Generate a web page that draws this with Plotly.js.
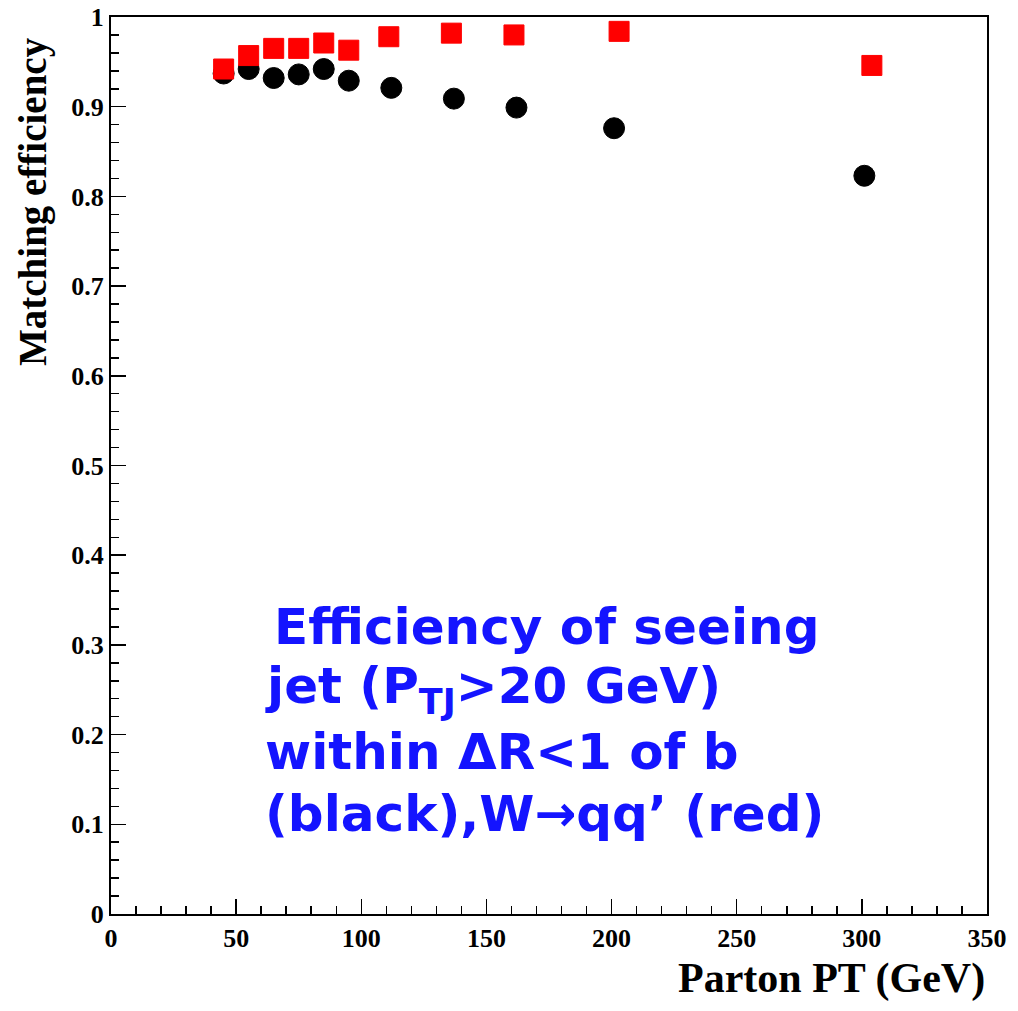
<!DOCTYPE html>
<html>
<head>
<meta charset="utf-8">
<script src="https://cdn.plot.ly/plotly-3.0.1.min.js"></script>
<style>html,body{margin:0;padding:0;background:#fff;}#chart{width:1018px;height:1011px;}</style>
</head>
<body>
<div id="chart"></div>
<script>
// b-jet matching (black circles)
var bX = [45, 55, 65, 75, 85, 95, 112, 137, 162, 201, 301];
var bY = [0.937, 0.942, 0.932, 0.936, 0.942, 0.929, 0.921, 0.909, 0.899, 0.876, 0.823];
// W->qq' matching (red squares)
var rX = [45, 55, 65, 75, 85, 95, 111, 136, 161, 203, 304];
var rY = [0.942, 0.957, 0.965, 0.965, 0.971, 0.963, 0.978, 0.982, 0.980, 0.984, 0.946];

var xTitle = "Parton PT (GeV)";
var yTitle = "Matching efficiency";
var noteLines = [
  "Efficiency of seeing",
  "jet (P<sub>TJ</sub>>20 GeV)",
  "within ΔR<1 of b",
  "(black),W→qq’ (red)"
];

var serif = "Liberation Serif, Times New Roman, serif";
var tickFont = {family: serif, size: 26, color: "#000", weight: "bold"};

var traces = [
  {x: bX, y: bY, type: "scatter", mode: "markers", name: "b",
   marker: {symbol: "circle", size: 21, color: "#000", line: {color: "#000", width: 1}}},
  {x: rX, y: rY, type: "scatter", mode: "markers", name: "W",
   marker: {symbol: "square", size: 20, color: "#ff0000", line: {color: "#ff0000", width: 1}}}
];

// pixel helpers for annotation placement (plot area 111..987 x, 17..914 y)
function py(p) { return (914 - p) / 897; }
function px(p) { return (p - 111) / 876; }

var annotations = [
  {xref: "paper", yref: "paper", x: 1.0, y: py(978), xanchor: "right", yanchor: "middle",
   text: xTitle, showarrow: false,
   font: {family: serif, size: 42, color: "#000", weight: "bold"}},
  {xref: "paper", yref: "paper", x: px(33), y: py(202), xanchor: "center", yanchor: "middle",
   text: yTitle, showarrow: false, textangle: -90,
   font: {family: serif, size: 39, color: "#000", weight: "bold"}}
];
var lineX = [272, 263, 263, 263];
var lineY = [627, 689, 752, 814];
noteLines.forEach(function (t, i) {
  annotations.push({xref: "paper", yref: "paper", x: px(lineX[i]), y: py(lineY[i]),
    xanchor: "left", yanchor: "middle", align: "left", text: t, showarrow: false,
    font: {family: "Comic Sans MS, DejaVu Sans, sans-serif", size: 50, color: "#1414ff", weight: "bold"}});
});

var layout = {
  width: 1018, height: 1011,
  margin: {l: 111, r: 31, t: 17, b: 97},
  paper_bgcolor: "#fff", plot_bgcolor: "#fff",
  showlegend: false,
  xaxis: {
    range: [0, 350], tick0: 0, dtick: 50,
    ticks: "inside", ticklen: 15, tickwidth: 1.5, tickcolor: "#000",
    minor: {dtick: 10, ticks: "inside", ticklen: 8, tickwidth: 1.5, tickcolor: "#000"},
    showline: true, linecolor: "#000", linewidth: 2, mirror: true,
    showgrid: false, zeroline: false,
    tickfont: tickFont
  },
  yaxis: {
    range: [0, 1], tick0: 0, dtick: 0.1,
    ticks: "inside", ticklen: 15, tickwidth: 1.5, tickcolor: "#000",
    minor: {dtick: 0.02, ticks: "inside", ticklen: 8, tickwidth: 1.5, tickcolor: "#000"},
    showline: true, linecolor: "#000", linewidth: 2, mirror: true,
    showgrid: false, zeroline: false,
    tickfont: tickFont,
    tickformat: "~g"
  },
  annotations: annotations
};

Plotly.newPlot("chart", traces, layout, {displayModeBar: false, staticPlot: true});
</script>
</body>
</html>
